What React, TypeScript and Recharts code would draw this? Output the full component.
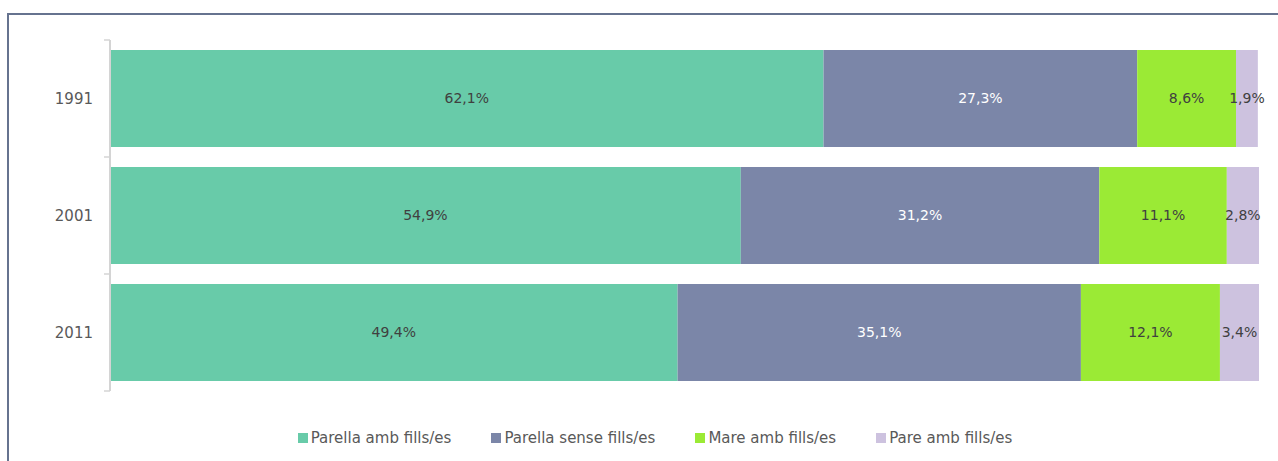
import { BarChart, Bar, XAxis, YAxis, Legend, LabelList } from 'recharts';

const years = ['1991', '2001', '2011'];
const parellaAmbFills = [62.1, 54.9, 49.4];
const parellaSenseFills = [27.3, 31.2, 35.1];
const mareAmbFills = [8.6, 11.1, 12.1];
const pareAmbFills = [1.9, 2.8, 3.4];

const seriesInfo = [
  { key: 'parellaAmb', name: 'Parella amb fills/es', color: '#68CBA9', text: '#404040' },
  { key: 'parellaSense', name: 'Parella sense fills/es', color: '#7B86A8', text: '#ffffff' },
  { key: 'mareAmb', name: 'Mare amb fills/es', color: '#9BEA35', text: '#404040' },
  { key: 'pareAmb', name: 'Pare amb fills/es', color: '#CDC2DF', text: '#404040' },
];

const data = years.map((year, i) => ({
  year,
  parellaAmb: parellaAmbFills[i],
  parellaSense: parellaSenseFills[i],
  mareAmb: mareAmbFills[i],
  pareAmb: pareAmbFills[i],
}));

const WIDTH = 1278;
const HEIGHT = 461;
const MARGIN = { top: 40, right: 19, left: 0, bottom: 50 };
const PLOT_H = 351;
const BAND = PLOT_H / years.length;
const FONT = '"DejaVu Sans", sans-serif';

const formatPct = (v: any) => `${Number(v).toFixed(1).replace('.', ',')}%`;

const YearTick = (props: any) => {
  const { x, y, payload, index } = props;
  return (
    <g>
      <line x1={x + 11} x2={x + 17} y1={y - BAND / 2} y2={y - BAND / 2} stroke="#d4d4d4" strokeWidth={1.5} />
      {index === years.length - 1 && (
        <line x1={x + 11} x2={x + 17} y1={y + BAND / 2} y2={y + BAND / 2} stroke="#d4d4d4" strokeWidth={1.5} />
      )}
      <text x={x} y={y} dy={5} textAnchor="end" fill="#595959" fontSize={15} fontFamily={FONT}>
        {payload.value}
      </text>
    </g>
  );
};

const LegendContent = () => (
  <div
    style={{
      display: 'flex',
      justifyContent: 'center',
      gap: 40,
      height: 20,
      alignItems: 'center',
      paddingLeft: 32,
      fontFamily: FONT,
      fontSize: 15,
      color: '#595959',
    }}
  >
    {seriesInfo.map((s) => (
      <div key={s.key} style={{ display: 'flex', alignItems: 'center' }}>
        <span style={{ width: 10, height: 10, background: s.color, marginRight: 3, display: 'inline-block' }} />
        <span>{s.name}</span>
      </div>
    ))}
  </div>
);

export default function App() {
  return (
    <div style={{ position: 'fixed', left: 0, top: 0, width: WIDTH, height: HEIGHT, background: '#fff', overflow: 'hidden' }}>
      <div
        style={{
          position: 'absolute',
          left: 7,
          top: 13,
          width: WIDTH - 7,
          height: HEIGHT - 13,
          borderTop: '2px solid #66738f',
          borderLeft: '2px solid #66738f',
          boxSizing: 'border-box',
        }}
      />
      <div style={{ position: 'absolute', left: 0, top: 0 }}>
        <BarChart
          width={WIDTH}
          height={HEIGHT}
          data={data}
          layout="vertical"
          margin={MARGIN}
          barCategoryGap={10}
        >
          <XAxis type="number" domain={[0, 100]} hide />
          <YAxis
            type="category"
            dataKey="year"
            width={110}
            axisLine={{ stroke: '#d4d4d4', strokeWidth: 2 }}
            tickLine={false}
            tickSize={0}
            tickMargin={17}
            tick={<YearTick />}
          />
          <Legend
            verticalAlign="bottom"
            content={<LegendContent />}
            wrapperStyle={{ top: 428, bottom: 'auto', left: 0, width: WIDTH }}
          />
          {seriesInfo.map((s) => (
            <Bar key={s.key} dataKey={s.key} name={s.name} stackId="a" fill={s.color} isAnimationActive={false}>
              <LabelList
                dataKey={s.key}
                position="center"
                formatter={formatPct}
                fill={s.text}
                fontSize={14}
                fontFamily={FONT}
              />
            </Bar>
          ))}
        </BarChart>
      </div>
    </div>
  );
}
